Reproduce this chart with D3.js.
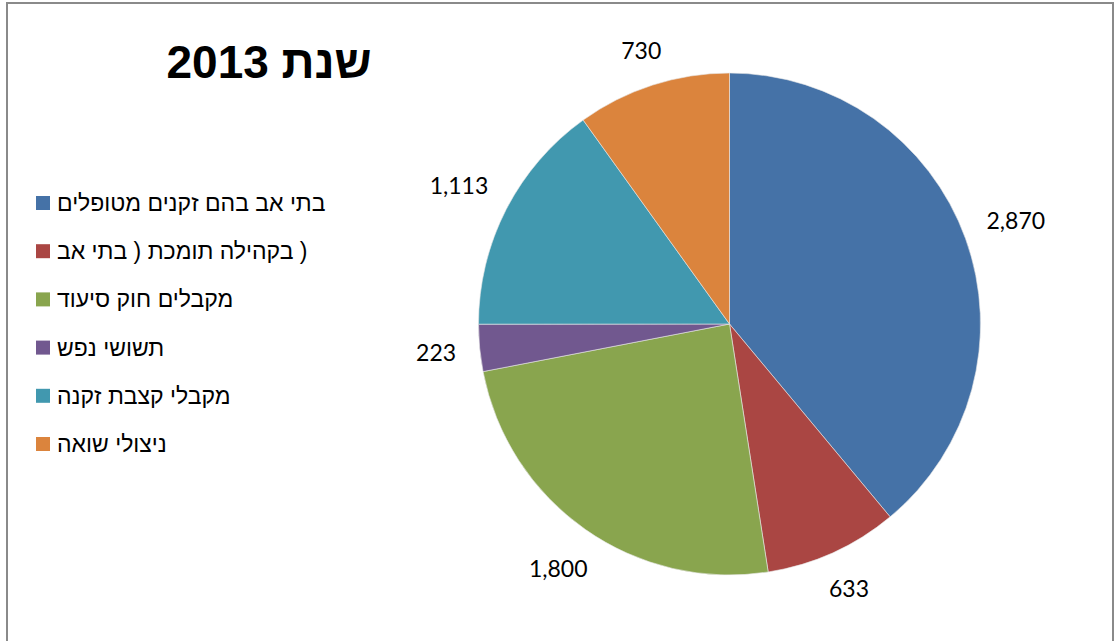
<!DOCTYPE html>
<html>
<head>
<meta charset="utf-8">
<script src="https://cdn.jsdelivr.net/npm/d3@7"></script>
<style>
  body { margin: 0; background: #fff; }
  svg { display: block; }
</style>
</head>
<body>
<div id="chart"></div>
<script>
// Legend labels (the second one keeps the original's odd bracket order).
const categories = [
    "בתי אב בהם זקנים מטופלים",
    "בתי אב\u200E ) \u200Eבקהילה תומכת\u200E )",
    "מקבלים חוק סיעוד",
    "תשושי נפש",
    "מקבלי קצבת זקנה",
    "ניצולי שואה"
];
const values = [2870, 633, 1800, 223, 1113, 730];
const colors = ["#4572A7", "#AA4643", "#89A54E", "#71588F", "#4198AF", "#DB843D"];
const title = "שנת 2013";

const width = 1114;
const height = 641;

const svg = d3.select("#chart")
    .append("svg")
    .attr("width", width)
    .attr("height", height);

// Frame around the chart area.
svg.append("rect")
    .attr("x", 7)
    .attr("y", 3)
    .attr("width", 1106)
    .attr("height", 700)
    .attr("fill", "none")
    .attr("stroke", "#8a8a8a")
    .attr("stroke-width", 2);

// Title.
svg.append("text")
    .attr("x", 269)
    .attr("y", 62)
    .attr("text-anchor", "middle")
    .attr("dominant-baseline", "central")
    .attr("font-family", "Liberation Sans, Arial, sans-serif")
    .attr("font-weight", "bold")
    .attr("font-size", 46)
    .attr("fill", "#000")
    .text(title);

// Pie.
const cx = 729.5, cy = 324, radius = 251;

const pie = d3.pie().sort(null).value(d => d);
const arcs = pie(values);

const arc = d3.arc().innerRadius(0).outerRadius(radius);

const g = svg.append("g").attr("transform", `translate(${cx},${cy})`);

g.selectAll("path")
    .data(arcs)
    .join("path")
    .attr("d", arc)
    .attr("fill", (d, i) => colors[i])
    .attr("stroke", "#e8e8e8")
    .attr("stroke-width", 0.6);

const fmt = d3.format(",");
const labelSize = 23;
const labelGap = 23;

// Value labels sit just outside the edge, pushed out by half their box.
g.selectAll("text.value")
    .data(arcs)
    .join("text")
    .attr("class", "value")
    .attr("text-anchor", "middle")
    .attr("dominant-baseline", "central")
    .attr("font-family", "Lato, Open Sans, sans-serif")
    .attr("font-size", labelSize)
    .attr("fill", "#000")
    .text(d => fmt(d.value))
    .each(function(d) {
        const a = (d.startAngle + d.endAngle) / 2;
        const w = this.getComputedTextLength();
        const h = labelSize * 0.75;
        const dist = radius + labelGap + Math.abs(Math.sin(a)) * w / 2 + Math.abs(Math.cos(a)) * h / 2;
        d3.select(this).attr("x", Math.sin(a) * dist).attr("y", -Math.cos(a) * dist);
    });

// Legend.
const legendY = d3.scalePoint()
    .domain(d3.range(categories.length))
    .range([203, 444]);

const legend = svg.append("g")
    .selectAll("g")
    .data(categories)
    .join("g")
    .attr("transform", (d, i) => `translate(36,${legendY(i)})`);

legend.append("rect")
    .attr("x", 0)
    .attr("y", -7)
    .attr("width", 14)
    .attr("height", 14)
    .attr("fill", (d, i) => colors[i]);

legend.append("text")
    .attr("x", 21)
    .attr("y", 0)
    .attr("direction", "ltr")
    .attr("dominant-baseline", "central")
    .attr("font-family", "Liberation Sans, Arial, sans-serif")
    .attr("font-size", 23)
    .attr("fill", "#000")
    .text(d => d);
</script>
</body>
</html>
